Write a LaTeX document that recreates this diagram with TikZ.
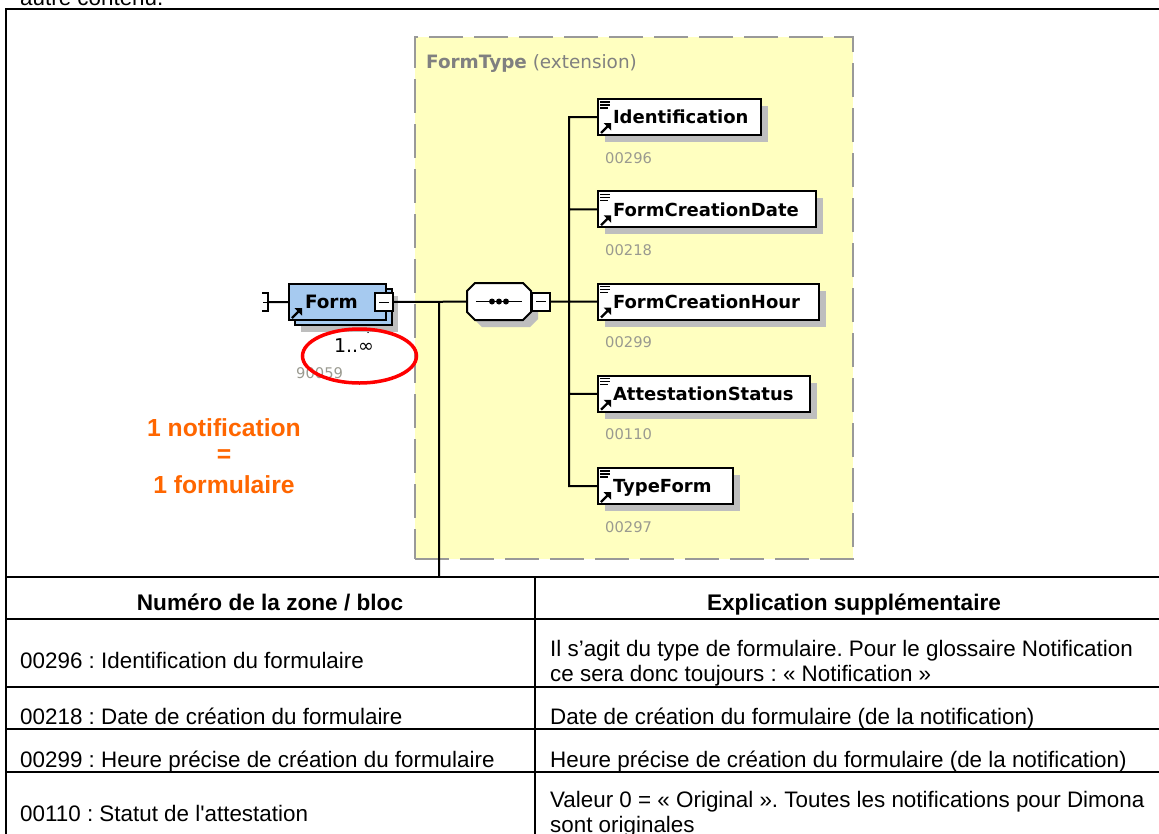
\documentclass[tikz,border=0pt]{standalone}
\usepackage{fontspec}
\setmainfont{Liberation Sans}
\newfontfamily\cellfont{Liberation Sans}
\newfontfamily\xsdfont{DejaVu Sans}
\usetikzlibrary{arrows,shadows,shapes.geometric}
\definecolor{xsdyellow}{HTML}{FFFFC0}
\definecolor{xsdblue}{HTML}{A6CAF0}
\definecolor{xsdgray}{HTML}{BEBEBE}
\definecolor{xsdnum}{HTML}{9A9A90}
\definecolor{notifyorange}{HTML}{FF6600}
\newcommand{\refarrow}[1]{
  \draw[line width=2.4pt] ([shift={(4,-3)}]#1.south west) -- ++(7,-7);
  \fill ([shift={(14,-13)}]#1.south west) -- ++(0,7.5) -- ++(-7.5,-7.5) -- cycle;
}
\newcommand{\elemicon}[1]{
  \draw[line width=1.3pt] ([shift={(3,4)}]#1.north west) -- ++(10,0) ++(-10,3) -- ++(10,0) ++(-10,3) -- ++(8,0);
  \refarrow{#1}
}
\begin{document}
\frenchspacing
\begin{tikzpicture}[x=1pt,y=-1pt]
\useasboundingbox (0,0) rectangle (1159,833);
\tikzstyle{every node}=[]
\tikzstyle{tablecell}=[anchor=base west,inner sep=0pt,font=\cellfont\fontsize{22.4}{24}\selectfont]
\tikzstyle{tablehead}=[anchor=base,inner sep=0pt,font=\cellfont\fontsize{22.6}{24}\selectfont\bfseries]
\tikzstyle{elem}=[draw,line width=2pt,fill=white,anchor=north west,minimum height=36pt,inner ysep=0pt,inner xsep=15pt,
  text height=13.5pt,text depth=0pt,align=left,font=\xsdfont\fontsize{18}{20}\selectfont\bfseries,
  drop shadow={shadow xshift=7pt,shadow yshift=-7pt,fill=xsdgray,opacity=1}]
\tikzstyle{elemnum}=[anchor=base west,inner sep=0pt,text=xsdnum,font=\xsdfont\fontsize{14.7}{16}\selectfont]
\tikzstyle{minusbox}=[draw,line width=2pt,fill=white,minimum size=18pt,inner sep=0pt,
  path picture={\draw[line width=1pt] ([xshift=4pt]path picture bounding box.west) -- ([xshift=-4pt]path picture bounding box.east);}]
\tikzstyle{notify}=[inner sep=0pt,text=notifyorange,font=\fontsize{24.7}{28}\selectfont\bfseries]
\tikzstyle{tree}=[line width=2pt]
\tikzstyle{grid}=[line width=2.4pt]
\def \dy {92.25}
% yellow extension box
\node [anchor=north west,minimum width=438pt,minimum height=522pt,inner sep=0pt,fill=xsdyellow,draw=gray!80,line width=2.4pt,
  dash pattern=on 34pt off 11pt] (formtype) at (414,36) {};
\node [anchor=base west,inner sep=0pt,text=gray,font=\xsdfont\fontsize{18.4}{20}\selectfont] (formtypelabel) at (426,68)
  {\textbf{FormType} (extension)};
% elements
\draw
  (597,98) node [elem,text width=133pt] (ident) {Identification}
++(0,\dy) node [elem,text width=188pt] (fcdate) {FormCreationDate}
++(0,\dy) node [elem,text width=191pt] (fchour) {FormCreationHour}
++(0,\dy) node [elem,text width=182pt] (status) {AttestationStatus}
++(0,\dy) node [elem,text width=105pt] (typeform) {TypeForm}
;
\draw
  (605,163) node [elemnum] (n296) {00296}
++(0,\dy) node [elemnum] (n218) {00218}
++(0,\dy) node [elemnum] (n299) {00299}
++(0,\dy) node [elemnum] (n110) {00110}
++(0,\dy) node [elemnum] (n297) {00297}
;
\elemicon{ident}
\elemicon{fcdate}
\elemicon{fchour}
\elemicon{status}
\elemicon{typeform}
% form element
\draw[line width=1.4pt] (357,320) -- (368,332) -- (376,324);
\node [draw,line width=2pt,fill=xsdblue,anchor=north west,minimum width=97pt,minimum height=36pt,inner sep=0pt,
  text height=13.5pt,text depth=0pt,font=\xsdfont\fontsize{18.4}{20}\selectfont\bfseries,
  drop shadow={shadow xshift=12pt,shadow yshift=-12pt,fill=xsdgray,opacity=1},
  copy shadow={shadow xshift=6pt,shadow yshift=-5pt,fill=xsdblue,draw=black,line width=2pt},
  text width=81pt,align=left] (form) at (288,283) {\hspace*{8pt}Form};
\refarrow{form}
\node [minusbox] (formminus) at (384,302) {};
\node [inner sep=0pt,font=\xsdfont\fontsize{19}{20}\selectfont] (card) at (354,346) {1..∞};
\node [elemnum] (n059) at (296,378) {90059};
\draw[tree] (262,293) -| (268,311) -- (262,311);
\coordinate (stub) at (268,302);
\draw[line width=1pt] (263,302) -- (stub);
% sequence
\fill[xsdgray] (482,290) -- (530,290) -- (538,298) -- (538,319) -- (530,327) -- (482,327) -- (474,319) -- (474,298) -- cycle;
\draw[line width=2pt,fill=white] (475,283) -- (523,283) -- (531,291) -- (531,312) -- (523,320) -- (475,320) -- (467,312) -- (467,291) -- cycle;
\node [minimum width=64pt,minimum height=37pt,inner sep=0pt] (seq) at (499,301.5) {};
\draw[line width=1.4pt] ([xshift=9pt]seq.west) -- ([xshift=-9pt]seq.east);
\foreach \i in {-7,0,7}
  \fill ([xshift=\i pt]seq.center) circle (3pt);
\node [minusbox] (seqminus) at (541,301.5) {};
% connectors
\coordinate (spine) at (569,301.5);
\coordinate (branch) at (439,302);
\coordinate (tabletop) at (439,577);
\draw[tree]
  (stub) -- (form.west |- stub)
  (formminus) -- (seq)
  (branch) -- (tabletop)
  (seqminus) -- (fchour.west |- seqminus)
  (spine) |- (ident.west)
  (spine) |- (fcdate.west)
  (spine) |- (status.west)
  (spine) |- (typeform.west)
;
% cardinality mark
\node [draw=red,line width=3.5pt,ellipse,minimum width=114pt,minimum height=54pt,inner sep=0pt] (mark) at (359.5,356) {};
% side note
\node [notify] (note1) at (224,428) {1 notification};
\node [notify] (note2) at (224,456) {=};
\node [notify] (note3) at (224,485) {1 formulaire};
% table
\draw[grid] (1160,9) -| (6,840);
\draw[grid]
  (6,577) -- (1160,577)
  (6,619) -- (1160,619)
  (6,687) -- (1160,687)
  (6,729) -- (1160,729)
  (6,772) -- (1160,772)
  (535,577) -- (535,840)
;
\node [tablehead] (headleft) at (270,610) {Numéro de la zone / bloc};
\node [tablehead] (headright) at (854,610) {Explication supplémentaire};
\node [tablecell] (top) at (20,5) {autre contenu.};
\node [tablecell] (c11) at (20,668) {00296 : Identification du formulaire};
\node [tablecell] (c21) at (20,724) {00218 : Date de création du formulaire};
\node [tablecell] (c31) at (20,767) {00299 : Heure précise de création du formulaire};
\node [tablecell] (c41) at (20,821) {00110 : Statut de l'attestation};
\node [tablecell] (c12) at (550,656) {Il s’agit du type de formulaire. Pour le glossaire Notification};
\node [tablecell] (c12b) at (550,681) {ce sera donc toujours : « Notification »};
\node [tablecell] (c22) at (550,724) {Date de création du formulaire (de la notification)};
\node [tablecell] (c32) at (550,767) {Heure précise de création du formulaire (de la notification)};
\node [tablecell] (c42) at (550,807) {Valeur 0 = « Original ». Toutes les notifications pour Dimona};
\node [tablecell] (c42b) at (550,832) {sont originales};
\end{tikzpicture}
\end{document}
